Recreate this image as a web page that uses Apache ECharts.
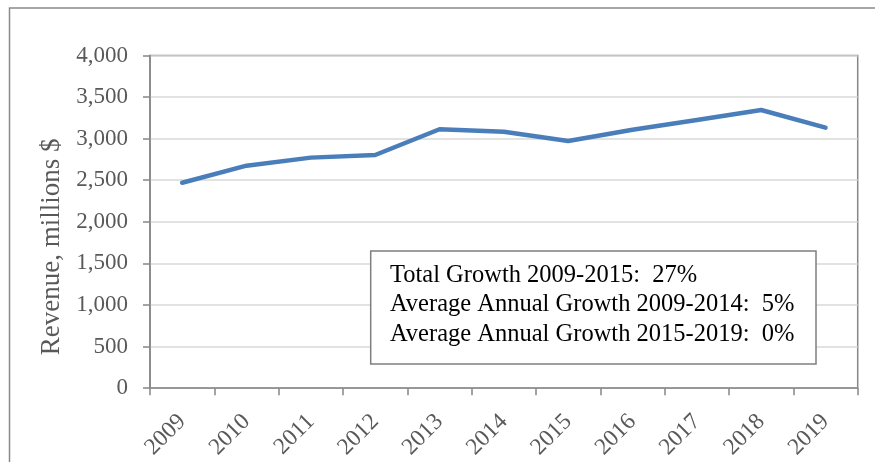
<!DOCTYPE html>
<html>
<head>
<meta charset="utf-8">
<script src="https://cdn.jsdelivr.net/npm/echarts@6/dist/echarts.min.js"></script>
<style>
html,body{margin:0;padding:0;background:#fff;}
#chart{width:875px;height:462px;}
</style>
</head>
<body>
<div id="chart"></div>
<script>
const years = ['2009','2010','2011','2012','2013','2014','2015','2016','2017','2018','2019'];
const revenue = [2470, 2675, 2772, 2804, 3113, 3084, 2972, 3108, 3225, 3345, 3132];
const yAxisName = 'Revenue, millions $';
const noteLines = [
  'Total Growth 2009-2015:  27%',
  'Average Annual Growth 2009-2014:  5%',
  'Average Annual Growth 2015-2019:  0%'
];

const axisGray = '#868686';
const textGray = '#595959';

const chart = echarts.init(document.getElementById('chart'), null, {renderer: 'canvas'});
chart.setOption({
  animation: false,
  backgroundColor: '#ffffff',
  grid: {
    left: 150, top: 55.5, width: 707.7, height: 332.8,
    show: true, borderColor: axisGray, borderWidth: 1.5, backgroundColor: 'transparent'
  },
  xAxis: {
    type: 'category',
    data: years,
    boundaryGap: true,
    axisLine: {show: true, lineStyle: {color: axisGray, width: 1.5}},
    axisTick: {show: true, length: 7, alignWithLabel: false, lineStyle: {color: axisGray, width: 1.5}},
    axisLabel: {
      rotate: 45, interval: 0, margin: 30,
      fontFamily: 'Liberation Serif', fontSize: 23.5, color: textGray
    },
    splitLine: {show: false}
  },
  yAxis: {
    type: 'value',
    min: 0, max: 4000, interval: 500,
    name: yAxisName,
    nameLocation: 'middle',
    nameGap: 84,
    nameTextStyle: {fontFamily: 'Liberation Serif', fontSize: 27, color: textGray, padding: [0, 50, 0, 0]},
    axisLine: {show: true, lineStyle: {color: axisGray, width: 1.5}},
    axisTick: {show: true, length: 7, lineStyle: {color: axisGray, width: 1.5}},
    axisLabel: {
      margin: 22, fontFamily: 'Liberation Serif', fontSize: 23, color: textGray,
      formatter: v => String(v).replace(/\B(?=(\d{3})+(?!\d))/g, ',')
    },
    splitLine: {show: true, lineStyle: {color: '#d9d9d9', width: 1.5}}
  },
  series: [{
    type: 'line',
    data: revenue,
    symbol: 'none',
    lineStyle: {color: '#4a7ebb', width: 4.5, cap: 'round', join: 'round'},
    z: 3
  }],
  graphic: [
    {
      type: 'rect', left: 7, top: 5.5, z: 0, silent: true,
      shape: {x: 0, y: 0, width: 900, height: 500},
      style: {fill: 'none', stroke: '#8a8a8a', lineWidth: 1.5}
    },
    {
      type: 'rect', z: 10, silent: true,
      shape: {x: 370.7, y: 251, width: 445.3, height: 113},
      style: {fill: '#ffffff', stroke: '#7f7f7f', lineWidth: 1.5}
    },
    {
      type: 'text', z: 11, silent: true,
      x: 390, y: 261,
      style: {
        text: noteLines.join('\n'),
        fontFamily: 'Liberation Serif', fontSize: 24.5, lineHeight: 29.3,
        fill: '#000000', verticalAlign: 'top', align: 'left'
      }
    }
  ]
});
</script>
</body>
</html>
